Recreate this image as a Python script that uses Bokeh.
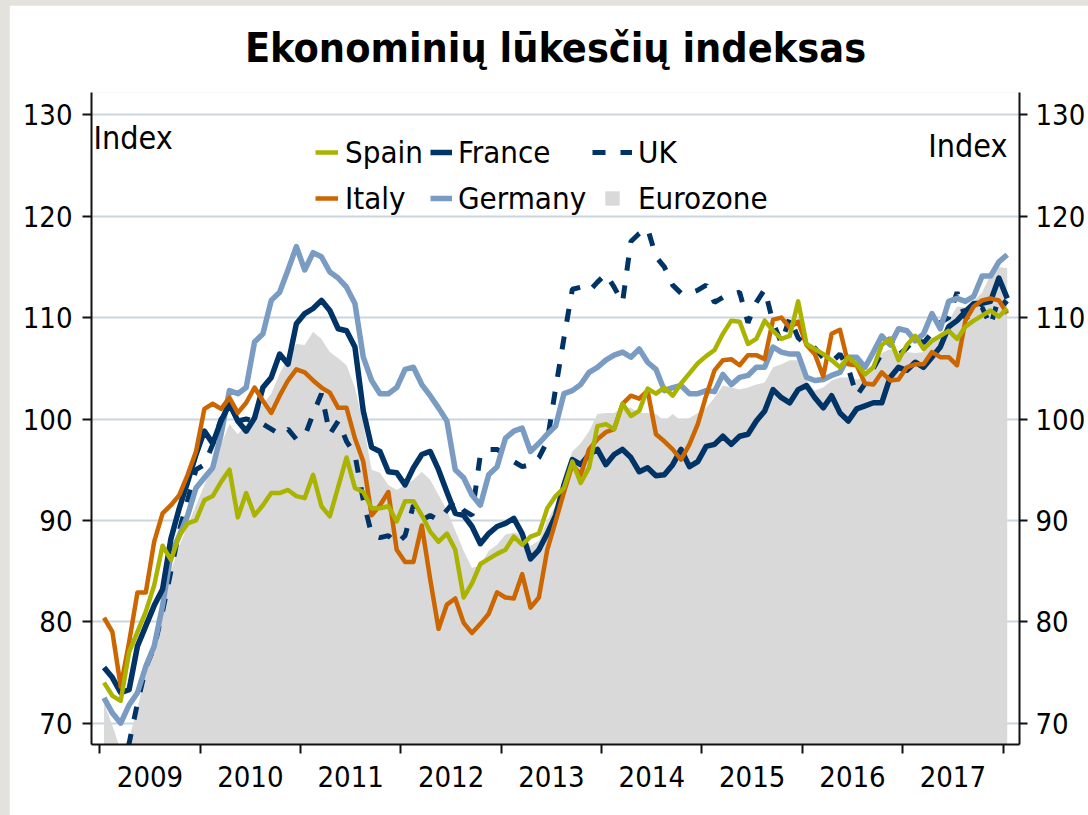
from bokeh.plotting import figure
from bokeh.models import Range1d, LinearAxis, FixedTicker, Legend, LegendItem, Label, Column
from bokeh.embed import file_html
from bokeh.resources import INLINE

# ---- data: monthly index, Jan 2009 .. Jan 2018 ----
start_year = 2009
n_months = 109

spain = [74.0, 72.7, 72.2, 77.0, 79.0, 81.0, 83.6, 87.5, 86.1, 88.5, 89.7, 90.0,
         92.0, 92.4, 93.8, 95.0, 90.3, 92.7, 90.5, 91.5, 92.7, 92.7, 93.0, 92.4,
         92.2, 94.5, 91.4, 90.4, 93.3, 96.2, 93.2, 92.8, 91.2, 91.2, 91.4, 89.9,
         91.9, 91.9, 90.5, 88.9, 87.9, 88.7, 87.1, 82.4, 83.8, 85.7, 86.2, 86.7,
         87.1, 88.4, 87.6, 88.4, 88.7, 91.2, 92.4, 93.2, 95.8, 93.7, 95.2, 99.3,
         99.5, 99.0, 101.5, 100.3, 100.8, 103.0, 102.5, 103.1, 102.3, 103.5, 104.5, 105.5,
         106.2, 106.8, 108.4, 109.7, 109.6, 107.4, 107.9, 109.7, 108.7, 107.9, 108.2, 111.6,
         107.4, 106.9, 106.4, 105.8, 105.1, 106.1, 105.4, 104.4, 105.1, 107.3, 107.9, 105.8,
         107.3, 108.2, 106.9, 107.7, 108.2, 108.7, 107.9, 109.1, 109.7, 110.2, 110.7, 110.1,
         110.9]

france = [75.5, 74.5, 73.0, 73.3, 77.6, 79.6, 81.6, 83.2, 88.2, 91.2, 93.8, 96.5,
          98.8, 97.6, 99.8, 101.5, 99.8, 98.8, 100.1, 103.1, 104.1, 106.4, 105.4, 109.4,
          110.4, 110.9, 111.7, 110.7, 108.9, 108.7, 107.1, 100.8, 97.2, 96.8, 94.8, 94.7,
          93.5, 95.2, 96.5, 96.8, 95.0, 92.8, 90.7, 90.5, 89.4, 87.7, 88.7, 89.4,
          89.7, 90.2, 88.7, 86.2, 87.1, 88.7, 90.5, 93.5, 96.0, 95.5, 96.5, 97.0,
          95.5, 96.5, 97.0, 96.2, 94.8, 95.2, 94.4, 94.5, 95.5, 97.0, 95.3, 95.8,
          97.3, 97.5, 98.3, 97.5, 98.3, 98.5, 99.8, 100.8, 102.9, 102.1, 101.6, 102.9,
          103.3, 102.1, 101.1, 102.3, 100.6, 99.8, 101.0, 101.3, 101.6, 101.6, 104.1, 105.1,
          104.8, 105.6, 105.1, 106.1, 107.1, 109.1, 109.7, 110.6, 111.4, 111.4, 111.6, 113.9,
          111.9]

uk = [64.0, 63.5, 64.5, 68.0, 72.0, 75.5, 77.5, 81.0, 85.0, 89.0, 92.0, 95.0,
      95.5, 97.5, 100.0, 100.5, 99.8, 100.0, 99.8, 99.5, 99.0, 98.5, 99.0, 98.0,
      98.3, 100.5, 102.5, 98.5, 99.8, 97.8, 96.5, 92.0, 88.6, 88.3, 88.5, 87.7,
      88.5, 91.5, 90.0, 90.5, 90.0, 91.0, 92.0, 91.0, 90.5, 96.5, 97.0, 97.0,
      96.5, 95.8, 95.3, 95.5, 96.2, 97.8, 103.0, 108.0, 112.8, 113.0, 112.6, 113.5,
      114.3, 113.0, 111.5, 117.5, 118.3, 118.8, 116.0, 115.0, 113.2, 112.4, 112.4, 112.7,
      113.2, 111.5, 112.0, 112.3, 112.5, 109.5, 111.5, 112.8, 109.5, 107.5, 110.0, 108.0,
      107.3, 107.0, 106.0, 105.6, 106.4, 105.0, 102.3, 103.5, 105.0, 106.5, 108.0, 106.3,
      107.0, 108.0, 107.5, 108.5, 109.5, 110.0, 112.5, 110.0, 110.3, 111.0, 109.2, 112.0,
      111.3]

italy = [80.4, 79.0, 73.6, 78.0, 82.9, 82.9, 87.9, 90.7, 91.5, 92.5, 94.5, 96.8,
         101.0, 101.5, 101.0, 102.1, 100.6, 101.6, 103.1, 101.8, 100.6, 102.3, 103.8, 104.9,
         104.6, 103.8, 103.1, 102.6, 101.1, 101.1, 98.1, 95.8, 90.5, 91.5, 92.8, 87.1,
         85.9, 85.9, 89.5, 84.2, 79.3, 81.7, 82.3, 79.9, 78.9, 79.8, 80.8, 82.9,
         82.4, 82.3, 84.7, 81.4, 82.4, 87.1, 89.9, 92.8, 95.5, 94.5, 97.0, 98.0,
         98.7, 99.0, 101.5, 102.3, 102.0, 102.8, 98.5, 97.8, 97.0, 96.0, 97.5, 99.5,
         102.3, 104.8, 105.8, 105.9, 105.3, 106.3, 106.3, 105.9, 109.8, 110.0, 109.0, 109.6,
         107.3, 106.4, 104.2, 108.4, 108.8, 105.4, 105.3, 103.5, 103.4, 104.6, 103.8, 103.9,
         105.1, 105.4, 105.4, 106.6, 106.1, 106.1, 105.3, 109.7, 111.1, 111.7, 111.9, 111.7,
         110.4]

germany = [72.5, 71.0, 70.0, 71.8, 73.0, 75.6, 77.6, 81.6, 86.6, 88.5, 90.5, 93.2,
           94.2, 95.2, 98.5, 102.8, 102.5, 103.1, 107.6, 108.4, 111.7, 112.5, 114.7, 117.0,
           114.7, 116.4, 116.0, 114.5, 113.9, 113.0, 111.4, 106.1, 103.8, 102.5, 102.5, 103.1,
           104.9, 105.1, 103.4, 102.3, 101.1, 99.8, 95.0, 94.2, 92.5, 91.5, 94.5, 95.3,
           98.1, 98.8, 99.1, 96.8, 97.6, 98.5, 99.3, 102.5, 102.8, 103.4, 104.6, 105.1,
           105.8, 106.3, 106.6, 106.1, 106.9, 105.6, 104.9, 102.8, 103.1, 103.3, 102.5, 102.5,
           102.8, 102.7, 104.4, 103.4, 104.1, 104.3, 105.1, 105.1, 107.1, 106.6, 106.4, 106.4,
           104.1, 103.8, 103.9, 104.3, 104.6, 106.1, 106.1, 105.1, 106.6, 108.2, 107.3, 108.9,
           108.7, 107.7, 108.4, 110.4, 108.9, 111.6, 111.9, 111.6, 112.1, 114.1, 114.1, 115.5,
           116.2]

eurozone = [72.0, 69.8, 67.3, 68.5, 71.5, 75.0, 78.0, 81.5, 85.0, 87.5, 89.5, 91.5,
            93.5, 95.5, 97.5, 99.5, 98.5, 99.5, 100.5, 101.5, 102.5, 104.5, 106.0, 107.4,
            107.3, 108.6, 107.9, 106.6, 106.0, 105.3, 103.1, 99.5, 95.0, 94.7, 93.5, 93.0,
            93.5, 94.0, 94.8, 94.0, 92.5, 91.0, 89.0, 87.0, 85.3, 85.6, 87.0, 87.6,
            88.6, 88.8, 88.6, 87.5, 88.0, 90.0, 91.5, 94.5, 96.8, 97.6, 98.8, 100.5,
            100.6, 100.6, 101.1, 101.1, 100.6, 100.6, 100.5, 99.8, 100.5, 99.8, 100.1, 100.6,
            101.1, 102.1, 103.3, 103.1, 102.9, 103.1, 103.4, 103.6, 105.1, 105.4, 105.8, 105.8,
            103.8, 102.8, 103.1, 103.8, 104.1, 104.1, 103.9, 104.1, 105.5, 106.5, 106.9, 106.5,
            106.6, 106.5, 106.6, 108.0, 108.0, 109.7, 111.1, 111.0, 111.6, 112.5, 114.2, 115.0,
            114.9]

year_labels = ["2009", "2010", "2011", "2012", "2013", "2014", "2015", "2016", "2017"]
y_ticks = [70, 80, 90, 100, 110, 120, 130]

# month positions as fractional years (middle of each month)
x = [start_year + (i + 0.5) / 12 for i in range(n_months)]

FONT = "DejaVu Sans Condensed, DejaVu Sans"
C_SPAIN = "#A9B300"
C_FRANCE = "#003366"
C_ITALY = "#CC6600"
C_GERMANY = "#7A9CC2"
C_EURO = "#D9D9D9"
C_GRID = "#C9D6E0"
C_PAGE = "#E3E2DD"

p = figure(width=1079, height=810,
           x_range=Range1d(2008.917, 2018.164), y_range=Range1d(67.9, 132.2),
           output_backend="svg", toolbar_location=None,
           min_border_left=82, min_border_right=68, min_border_top=87, min_border_bottom=71,
           background_fill_color="white", border_fill_color="white")
p.margin = (5, 0, 0, 9)
p.outline_line_color = None

p.title.text = "Ekonominių lūkesčių indeksas"
p.title.text_font = FONT
p.title.text_font_size = "41px"
p.title.text_font_style = "bold"
p.title.align = "center"
p.title.vertical_align = "top"
p.title.text_color = "#000000"
p.title.standoff = 37

# grid
p.xgrid.visible = False
p.ygrid.ticker = FixedTicker(ticks=y_ticks)
p.ygrid.grid_line_color = C_GRID
p.ygrid.grid_line_width = 2

def style_y(ax, tick_out, standoff):
    ax.ticker = FixedTicker(ticks=y_ticks)
    ax.major_tick_out = tick_out
    ax.major_tick_in = 0
    ax.major_tick_line_width = 2
    ax.major_tick_line_color = "#111111"
    ax.minor_tick_line_color = None
    ax.axis_line_width = 2
    ax.axis_line_color = "#111111"
    ax.major_label_text_font = FONT
    ax.major_label_text_font_size = "29px"
    ax.major_label_text_color = "#000000"
    ax.major_label_standoff = standoff

style_y(p.yaxis[0], 9, 10)
right = LinearAxis()
style_y(right, 8, 8)
p.add_layout(right, "right")

xa = p.xaxis[0]
xa.ticker = FixedTicker(ticks=[int(y) + 0.5 for y in year_labels],
                        minor_ticks=[int(y) for y in year_labels] + [int(year_labels[-1]) + 1])
xa.major_label_overrides = {int(y) + 0.5: y for y in year_labels}
xa.major_tick_line_color = None
xa.minor_tick_out = 9
xa.minor_tick_in = 0
xa.minor_tick_line_width = 2
xa.minor_tick_line_color = "#111111"
xa.axis_line_width = 2
xa.axis_line_color = "#111111"
xa.major_label_text_font = FONT
xa.major_label_text_font_size = "29px"
xa.major_label_text_color = "#000000"
xa.major_label_standoff = 12

# series
r_euro = p.varea(x=x, y1=[60] * n_months, y2=eurozone, fill_color=C_EURO)
r_uk = p.line(x, uk, line_color=C_FRANCE, line_width=5, line_dash="13 15")
r_ger = p.line(x, germany, line_color=C_GERMANY, line_width=5.5, line_join="round")
r_fra = p.line(x, france, line_color=C_FRANCE, line_width=5.5, line_join="round")
r_ita = p.line(x, italy, line_color=C_ITALY, line_width=4.5, line_join="round")
r_spa = p.line(x, spain, line_color=C_SPAIN, line_width=4.5, line_join="round")
# legend key for the eurozone area (square marker), not drawn in the plot itself
r_euro_key = p.scatter(x, eurozone, marker="square", size=13,
                       fill_color=C_EURO, line_color=None, visible=False)

def add_legend(items, xloc, gw, standoff):
    lg = Legend(items=items, location=(xloc, 528), orientation="vertical",
                glyph_width=gw, glyph_height=36, label_height=36, spacing=10,
                padding=0, margin=0, label_standoff=standoff,
                background_fill_alpha=0, border_line_color=None,
                label_text_font=FONT, label_text_font_size="31px",
                label_text_color="#000000", click_policy="none")
    p.add_layout(lg)

add_legend([LegendItem(label="Spain", renderers=[r_spa]),
            LegendItem(label="Italy", renderers=[r_ita])], 224, 23, 7)
add_legend([LegendItem(label="France", renderers=[r_fra]),
            LegendItem(label="Germany", renderers=[r_ger])], 339, 22, 6)
add_legend([LegendItem(label="UK", renderers=[r_uk]),
            LegendItem(label="Eurozone", renderers=[r_euro_key])], 501, 40, 6)

p.add_layout(Label(x=2008.937, y=127.7, text="Index", text_align="left", text_baseline="middle",
                   text_font=FONT, text_font_size="32px", text_color="#000000"))
p.add_layout(Label(x=2018.045, y=126.9, text="Index", text_align="right", text_baseline="middle",
                   text_font=FONT, text_font_size="32px", text_color="#000000"))

page = Column(children=[p], styles={"background-color": C_PAGE})

open("out.html", "w").write(file_html(page, INLINE))
